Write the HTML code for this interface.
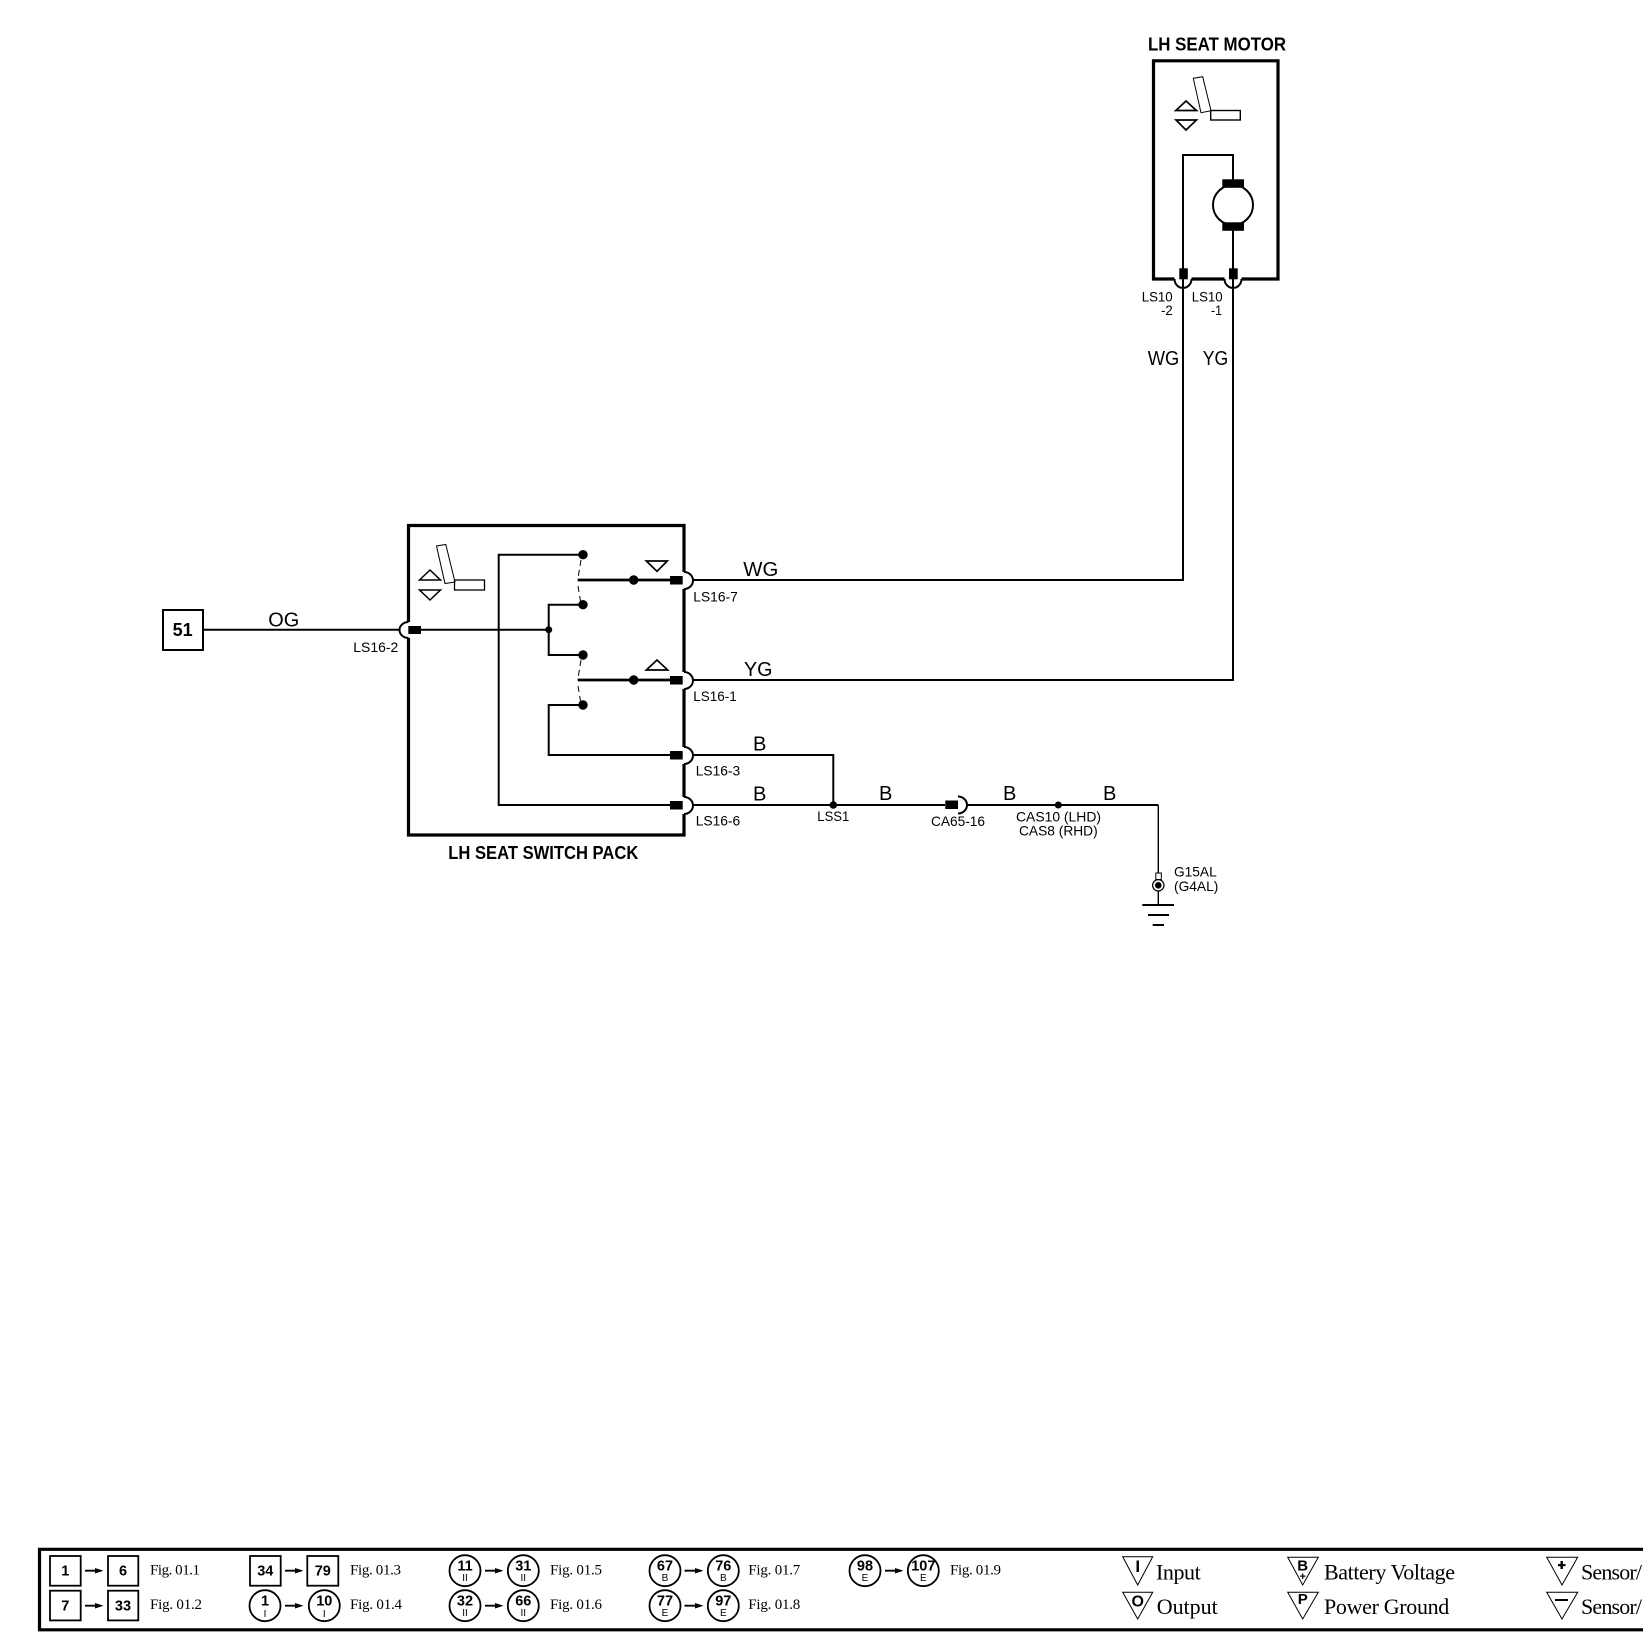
<!DOCTYPE html>
<html><head><meta charset="utf-8"><style>
html,body{margin:0;padding:0;background:#fff;width:1648px;height:1650px;overflow:hidden}
svg{display:block}
text{font-family:"Liberation Sans",sans-serif;fill:#000}
.t{font-weight:bold;font-size:18.5px}
.w{font-size:20px}
.s{font-size:14px}
.f{font-family:"Liberation Serif",serif;font-size:15px}
.l{font-family:"Liberation Serif",serif;font-size:22px}
.n{font-weight:bold;font-size:14.5px;text-anchor:middle}
.m{font-size:10px;text-anchor:middle}
.k{font-weight:bold;text-anchor:middle}
</style></head><body>
<svg width="1648" height="1650" viewBox="0 0 1648 1650" xmlns="http://www.w3.org/2000/svg">
<defs><clipPath id="c"><rect x="0" y="1500" width="1643" height="150"/></clipPath></defs>
<g fill="none" stroke="#000" stroke-width="2">
<!-- Motor -->
<path d="M1174.500 279H1153.500V60.800H1278V279H1241.500M1191.500 279H1224.500" stroke-width="3.200"/>
<path d="M1174.500 279a8.500 9 0 0 0 17 0M1224.500 279a8.500 9 0 0 0 17 0" stroke-width="2"/>
<path d="M1193.300 78.300L1202.700 76.700L1211 110.700L1201 112.700Z" stroke-width="1"/>
<rect x="1210.700" y="110.500" width="29.600" height="9.500" stroke-width="1.400"/>
<path d="M1186 101L1175.800 110.500H1196.500ZM1176 120H1196.500L1186 130Z" stroke-width="1.700"/>
<path d="M1183 270V155H1233V180M1233 230V270"/>
<circle cx="1233" cy="205" r="20"/>
<path d="M1183 279V581M1233 279V681"/>
<!-- Switch box -->
<path d="M684 572V525.500H408.500V622M408.500 638V835H684V814M684 797V764M684 747V689M684 672V589" stroke-width="3.200"/>
<path d="M684 572a9 8.500 0 0 1 0 17M684 672a9 8.500 0 0 1 0 17M684 747a9 8.500 0 0 1 0 17M684 797a9 8.500 0 0 1 0 17"/>
<path d="M408.500 622a9 8 0 0 0 0 16"/>
<path d="M436.500 546L445.800 544.500L455 582L445 583.500Z" stroke-width="1"/>
<rect x="454.500" y="580" width="30" height="10" stroke-width="1.300"/>
<path d="M430 570L419.500 580H440.500ZM419.500 590H440.500L430 600Z" stroke-width="1.500"/>
<path d="M646.300 561H667.300L657 571.300ZM646.300 670H667.700L657 660Z" stroke-width="1.700"/>
<!-- Wires -->
<path d="M203 629.700H400M421 629.700H548.700"/>
<path d="M583 554.700H498.700V805H672"/>
<path d="M583 604.700H548.700V655H583"/>
<path d="M583 705H548.700V755H672"/>
<path d="M577.700 580H672M577.700 680H672" stroke-width="2.800"/>
<path d="M581 560L577.700 580M578 586L581 604M581 660L577.700 680M578 686L581 704" stroke-width="1" stroke-dasharray="6 4"/>
<path d="M693 580H1183M693 680H1233"/>
<path d="M693 755H833.300V805M693 805H945M958 796.500a9 8.500 0 0 1 0 17M967 805H1158.300"/>
<path d="M1158.300 805V873M1158.300 891V905" stroke-width="1.400"/>
<rect x="1155.800" y="873" width="5.500" height="6.500" stroke-width="1"/>
<circle cx="1158.300" cy="885.300" r="5.700" stroke-width="1.200"/>
<path d="M1142.300 905H1174M1148 915H1169M1152.700 925H1164"/>
<rect x="163" y="610" width="40" height="40"/>
</g>
<g fill="#000">
<rect x="1222.300" y="179.300" width="21.700" height="8.500"/>
<rect x="1222.300" y="222.300" width="21.700" height="8.500"/>
<rect x="1179.300" y="268.300" width="8.500" height="11"/>
<rect x="1229" y="268.300" width="8.700" height="11"/>
<rect x="408.300" y="626" width="12.700" height="8"/>
<rect x="670" y="576" width="12.700" height="8.500"/>
<rect x="670" y="676" width="12.700" height="8.500"/>
<rect x="670" y="751" width="12.700" height="8.500"/>
<rect x="670" y="801" width="12.700" height="8.500"/>
<rect x="945.300" y="800.500" width="12.700" height="8.500"/>
<circle cx="548.700" cy="629.700" r="3.500"/>
<circle cx="583" cy="554.700" r="4.700"/>
<circle cx="583" cy="604.700" r="4.700"/>
<circle cx="583" cy="655" r="4.700"/>
<circle cx="583" cy="705" r="4.700"/>
<circle cx="633.700" cy="580" r="4.700"/>
<circle cx="633.700" cy="680" r="4.700"/>
<circle cx="833.300" cy="805" r="3.800"/>
<circle cx="1058.300" cy="805" r="3.500"/>
<circle cx="1158.300" cy="885.300" r="3.300"/>
</g>
<text class="t" x="1148" y="50.700" textLength="138" lengthAdjust="spacingAndGlyphs">LH SEAT MOTOR</text>
<text class="t" x="448.300" y="859" textLength="190" lengthAdjust="spacingAndGlyphs">LH SEAT SWITCH PACK</text>
<text x="182.700" y="636" text-anchor="middle" font-weight="bold" font-size="18">51</text>
<text class="w" x="268.300" y="626.300" textLength="31" lengthAdjust="spacingAndGlyphs">OG</text>
<text class="w" x="743.300" y="576" textLength="35" lengthAdjust="spacingAndGlyphs">WG</text>
<text class="w" x="744" y="676" textLength="28.500" lengthAdjust="spacingAndGlyphs">YG</text>
<text class="w" x="1147.700" y="365" font-size="18" textLength="31.500" lengthAdjust="spacingAndGlyphs">WG</text>
<text class="w" x="1202.700" y="365" textLength="25.500" lengthAdjust="spacingAndGlyphs">YG</text>
<text class="w" x="753" y="750.700">B</text>
<text class="w" x="753" y="800.700">B</text>
<text class="w" x="879" y="800">B</text>
<text class="w" x="1003" y="800">B</text>
<text class="w" x="1103" y="800">B</text>
<text class="s" x="353.300" y="652" textLength="45" lengthAdjust="spacingAndGlyphs">LS16-2</text>
<text class="s" x="693.300" y="601.300" textLength="44.500" lengthAdjust="spacingAndGlyphs">LS16-7</text>
<text class="s" x="693.300" y="701" textLength="43.500" lengthAdjust="spacingAndGlyphs">LS16-1</text>
<text class="s" x="695.700" y="775.700" textLength="44.500" lengthAdjust="spacingAndGlyphs">LS16-3</text>
<text class="s" x="695.700" y="825.700" textLength="44.500" lengthAdjust="spacingAndGlyphs">LS16-6</text>
<text class="s" x="1141.700" y="301.700" textLength="31" lengthAdjust="spacingAndGlyphs">LS10</text>
<text class="s" x="1161" y="315" textLength="11.700" lengthAdjust="spacingAndGlyphs">-2</text>
<text class="s" x="1191.700" y="301.700" textLength="31" lengthAdjust="spacingAndGlyphs">LS10</text>
<text class="s" x="1211" y="315" textLength="11" lengthAdjust="spacingAndGlyphs">-1</text>
<text class="s" x="817.300" y="821" textLength="32" lengthAdjust="spacingAndGlyphs">LSS1</text>
<text class="s" x="931" y="826" textLength="54" lengthAdjust="spacingAndGlyphs">CA65-16</text>
<text class="s" x="1016" y="821.700" textLength="85" lengthAdjust="spacingAndGlyphs">CAS10 (LHD)</text>
<text class="s" x="1019" y="835.300" textLength="78.700" lengthAdjust="spacingAndGlyphs">CAS8 (RHD)</text>
<text class="s" x="1174" y="876.700" textLength="42.700" lengthAdjust="spacingAndGlyphs">G15AL</text>
<text class="s" x="1174" y="891" textLength="44.300" lengthAdjust="spacingAndGlyphs">(G4AL)</text>
<!-- Legend -->
<g clip-path="url(#c)">
<path d="M1648 1549.300H39.500V1629.800H1648" fill="none" stroke="#000" stroke-width="3.200"/>
<text class="l" x="1581" y="1579.300" textLength="61" lengthAdjust="spacing">Sensor/</text>
<text class="l" x="1581" y="1614" textLength="61" lengthAdjust="spacing">Sensor/</text>
</g>
<g fill="none" stroke="#000" stroke-width="1.800">
<rect x="50" y="1556" width="30.700" height="29.700"/>
<rect x="108" y="1556" width="30.300" height="29.700"/>
<rect x="50" y="1590.700" width="30.700" height="29.700"/>
<rect x="108" y="1590.700" width="30.300" height="29.700"/>
<rect x="250" y="1556" width="30.700" height="29.700"/>
<rect x="307.300" y="1556" width="31" height="29.700"/>
<circle cx="265" cy="1605.700" r="15.500"/>
<circle cx="324.300" cy="1605.700" r="15.500"/>
<circle cx="465" cy="1570.700" r="15.500"/>
<circle cx="523.300" cy="1570.700" r="15.500"/>
<circle cx="465" cy="1605.700" r="15.500"/>
<circle cx="523.300" cy="1605.700" r="15.500"/>
<circle cx="665" cy="1570.700" r="15.500"/>
<circle cx="723.300" cy="1570.700" r="15.500"/>
<circle cx="665" cy="1605.700" r="15.500"/>
<circle cx="723.300" cy="1605.700" r="15.500"/>
<circle cx="865" cy="1570.700" r="15.500"/>
<circle cx="923.300" cy="1570.700" r="15.500"/>
<path d="M85 1570.700H96M85 1605.700H96M285 1570.700H296M285 1605.700H296M485 1570.700H496M485 1605.700H496M684.500 1570.700H696M684.500 1605.700H696M885 1570.700H896"/>
<g stroke-width="1">
<path d="M1122.700 1556.700H1152.700L1137.700 1585ZM1122.700 1592.300H1152.700L1137.700 1619Z"/>
<path d="M1287.700 1557.300H1318.300L1302.700 1585ZM1287.700 1592.300H1318.300L1302.700 1619Z"/>
<path d="M1546.700 1557.300H1577.700L1562 1585ZM1546.700 1592.300H1577.700L1562 1619Z"/>
</g>
</g>
<g fill="#000">
<path d="M95 1568L103.500 1570.700L95 1573.500Z"/>
<path d="M95 1603L103.500 1605.700L95 1608.500ZM295 1568L303.500 1570.700L295 1573.500ZM295 1603L303.500 1605.700L295 1608.500ZM495 1568L503.500 1570.700L495 1573.500ZM495 1603L503.500 1605.700L495 1608.500ZM695 1568L703.500 1570.700L695 1573.500ZM695 1603L703.500 1605.700L695 1608.500ZM895 1568L903.500 1570.700L895 1573.500Z"/>
<rect x="1558" y="1564" width="7.500" height="2.200"/>
<rect x="1560.500" y="1561" width="2.400" height="8"/>
<rect x="1555" y="1599" width="13" height="2"/>
</g>
<text class="n" x="65.300" y="1575.700">1</text>
<text class="n" x="123" y="1575.700">6</text>
<text class="n" x="65.300" y="1610.700">7</text>
<text class="n" x="123" y="1610.700">33</text>
<text class="n" x="265.300" y="1575.700">34</text>
<text class="n" x="322.800" y="1575.700">79</text>
<text class="n" x="265" y="1605.500">1</text><text class="m" x="265" y="1617">I</text>
<text class="n" x="324.300" y="1605.500">10</text><text class="m" x="324.300" y="1617">I</text>
<text class="n" x="465" y="1570.500">11</text><text class="m" x="465" y="1581">II</text>
<text class="n" x="523.300" y="1570.500">31</text><text class="m" x="523.300" y="1581">II</text>
<text class="n" x="465" y="1605.500">32</text><text class="m" x="465" y="1616">II</text>
<text class="n" x="523.300" y="1605.500">66</text><text class="m" x="523.300" y="1616">II</text>
<text class="n" x="665" y="1570.500">67</text><text class="m" x="665" y="1581">B</text>
<text class="n" x="723.300" y="1570.500">76</text><text class="m" x="723.300" y="1581">B</text>
<text class="n" x="665" y="1605.500">77</text><text class="m" x="665" y="1616">E</text>
<text class="n" x="723.300" y="1605.500">97</text><text class="m" x="723.300" y="1616">E</text>
<text class="n" x="865" y="1570.500">98</text><text class="m" x="865" y="1581">E</text>
<text class="n" x="923.300" y="1570.500" font-size="13.500">107</text><text class="m" x="923.300" y="1581">E</text>
<text class="f" x="150" y="1574.300" textLength="50">Fig. 01.1</text>
<text class="f" x="150" y="1609" textLength="52">Fig. 01.2</text>
<text class="f" x="350" y="1574.300" textLength="51">Fig. 01.3</text>
<text class="f" x="350" y="1609" textLength="52">Fig. 01.4</text>
<text class="f" x="550" y="1574.300" textLength="52">Fig. 01.5</text>
<text class="f" x="550" y="1609" textLength="52">Fig. 01.6</text>
<text class="f" x="748.300" y="1574.300" textLength="52">Fig. 01.7</text>
<text class="f" x="748.300" y="1609" textLength="52">Fig. 01.8</text>
<text class="f" x="950" y="1574.300" textLength="51">Fig. 01.9</text>
<text class="k" x="1137.700" y="1572" font-size="17">I</text>
<text class="k" x="1137.700" y="1606.700" font-size="16">O</text>
<text class="k" x="1302.700" y="1570.500" font-size="15">B</text>
<text class="k" x="1302.700" y="1580" font-size="11">+</text>
<text class="k" x="1302.700" y="1604" font-size="15">P</text>
<text class="l" x="1156" y="1579.300" textLength="44.700">Input</text>
<text class="l" x="1156.700" y="1614" textLength="61">Output</text>
<text class="l" x="1324" y="1579.300" textLength="131">Battery Voltage</text>
<text class="l" x="1324" y="1614" textLength="125.300">Power Ground</text>
</svg>
</body></html>
